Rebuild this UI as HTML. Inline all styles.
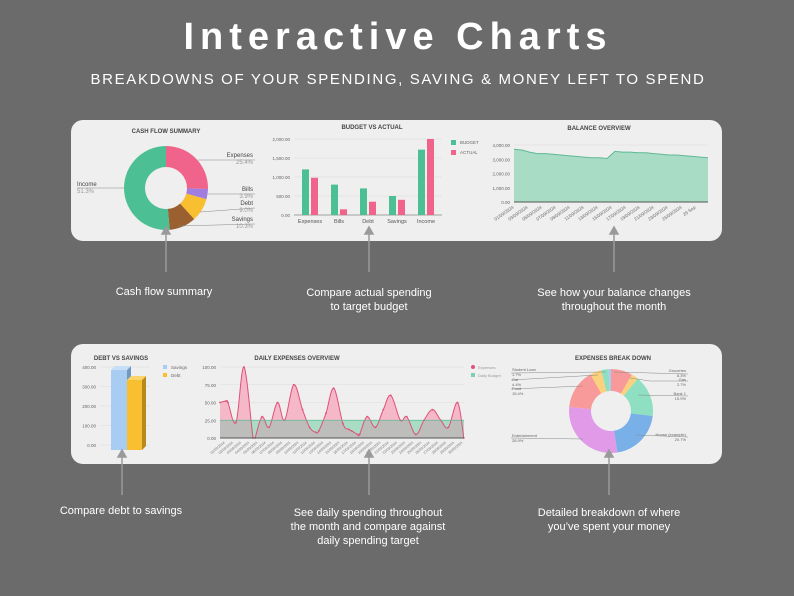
<!DOCTYPE html>
<html><head><meta charset="utf-8"><style>
body{margin:0;background:#6b6b6c;width:794px;height:596px;overflow:hidden;font-family:"Liberation Sans",sans-serif}
svg{display:block}
</style></head><body>
<svg id="s" width="794" height="596" viewBox="0 0 794 596" xmlns="http://www.w3.org/2000/svg" font-family="Liberation Sans, sans-serif">
<rect width="794" height="596" fill="#6b6b6c"/>
<text x="398" y="49" text-anchor="middle" fill="#fff" font-size="38" font-weight="bold" letter-spacing="6">Interactive Charts</text>
<text x="398" y="84" text-anchor="middle" fill="#fff" font-size="15" letter-spacing="1.65">BREAKDOWNS OF YOUR SPENDING, SAVING &amp; MONEY LEFT TO SPEND</text>
<rect x="71" y="120" width="651" height="121" rx="12" fill="#efefef"/>
<rect x="71" y="344" width="651" height="120" rx="12" fill="#efefef"/>
<g font-size="6" font-weight="bold" fill="#444" text-anchor="middle">
<text x="166" y="133">CASH FLOW SUMMARY</text>
<text x="372" y="129">BUDGET VS ACTUAL</text>
<text x="599" y="130">BALANCE OVERVIEW</text>
<text x="121" y="360">DEBT VS SAVINGS</text>
<text x="297" y="360">DAILY EXPENSES OVERVIEW</text>
<text x="613" y="360">EXPENSES BREAK DOWN</text>
</g>
<g id="dyn"></g>
<g fill="#fff" font-size="11" text-anchor="middle">
<text x="164" y="295">Cash flow summary</text>
<text x="369" y="296">Compare actual spending</text>
<text x="369" y="310">to  target budget</text>
<text x="614" y="296">See how your balance changes</text>
<text x="614" y="310">throughout the month</text>
<text x="121" y="514">Compare debt to savings</text>
<text x="368" y="516">See daily spending throughout</text>
<text x="368" y="530">the month and compare against</text>
<text x="368" y="544">daily spending target</text>
<text x="609" y="516">Detailed breakdown of where</text>
<text x="609" y="530">you’ve spent your money</text>
</g>
<g stroke="#9a9a9a" stroke-width="1.5" fill="#9a9a9a">
<line x1="166" y1="232" x2="166" y2="272"/><path d="M162,234 L166,227 L170,234Z"/>
<line x1="369" y1="232" x2="369" y2="272"/><path d="M365,234 L369,227 L373,234Z"/>
<line x1="614" y1="232" x2="614" y2="272"/><path d="M610,234 L614,227 L618,234Z"/>
<line x1="122" y1="455" x2="122" y2="495"/><path d="M118,457 L122,450 L126,457Z"/>
<line x1="369" y1="455" x2="369" y2="495"/><path d="M365,457 L369,450 L373,457Z"/>
<line x1="609" y1="455" x2="609" y2="495"/><path d="M605,457 L609,450 L613,457Z"/>
</g>
</svg>
<script>
var g=document.getElementById('dyn'),h='';
function arc(cx,cy,R,r,a0,a1,c){var p=Math.PI/180;function P(rr,a){return (cx+rr*Math.sin(a*p)).toFixed(2)+','+(cy-rr*Math.cos(a*p)).toFixed(2)}var l=(a1-a0)>180?1:0;return '<path d="M'+P(R,a0)+' A'+R+','+R+' 0 '+l+' 1 '+P(R,a1)+' L'+P(r,a1)+' A'+r+','+r+' 0 '+l+' 0 '+P(r,a0)+'Z" fill="'+c+'"/>';}
function donut(cx,cy,R,r,d){var a=0;d.forEach(function(x){var b=a+x[0]*3.6;h+=arc(cx,cy,R,r,a,b,x[1]);a=b;});}
function t(x,y,s,o){h+='<text x="'+x+'" y="'+y+'" font-size="'+(o&&o.fs||5)+'" fill="'+(o&&o.c||'#666')+'" text-anchor="'+(o&&o.a||'start')+'">'+s+'</text>';}
// cash flow
donut(166,188,42,21,[[25.4,'#f0648c'],[3.9,'#a07de0'],[9,'#f8c030'],[10.3,'#9a6030'],[51.4,'#4dbf94']]);
h+='<g stroke="#888" stroke-width="0.6" fill="none"><path d="M198,160 L255,160"/><path d="M208,194 L255,194"/><path d="M200,212 L255,208"/><path d="M178,226 L255,224"/><path d="M77,188 L124,188"/></g>';
t(253,157,'Expenses',{a:'end',fs:6,c:'#444'});t(253,164,'25.4%',{a:'end',fs:6,c:'#999'});
t(253,191,'Bills',{a:'end',fs:6,c:'#444'});t(253,198,'3.9%',{a:'end',fs:6,c:'#999'});
t(253,205,'Debt',{a:'end',fs:6,c:'#444'});t(253,212,'9.0%',{a:'end',fs:6,c:'#999'});
t(253,221,'Savings',{a:'end',fs:6,c:'#444'});t(253,228,'10.3%',{a:'end',fs:6,c:'#999'});
t(77,186,'Income',{fs:6,c:'#444'});t(77,193,'51.3%',{fs:6,c:'#999'});
// budget vs actual
var y0=215,sc=76/2000;
[0,500,1000,1500,2000].forEach(function(v){var y=y0-v*sc;h+='<line x1="294" y1="'+y+'" x2="442" y2="'+y+'" stroke="#ddd" stroke-width="0.6"/>';t(290,y+2,v.toFixed(2).replace('1000','1,000').replace('1500','1,500').replace('2000','2,000'),{a:'end',fs:4.5});});
h+='<line x1="294" y1="215" x2="442" y2="215" stroke="#888" stroke-width="0.8"/>';
[['Expenses',1200,980],['Bills',800,150],['Debt',700,350],['Savings',500,400],['Income',1720,2000]].forEach(function(d,i){var x=302+i*29;h+='<rect x="'+x+'" y="'+(y0-d[1]*sc)+'" width="7" height="'+d[1]*sc+'" fill="#4dbf94"/><rect x="'+(x+9)+'" y="'+(y0-d[2]*sc)+'" width="7" height="'+d[2]*sc+'" fill="#f0648c"/>';t(x+8,223,d[0],{a:'middle',fs:5.5,c:'#555'});});
h+='<rect x="451" y="140" width="5" height="5" fill="#4dbf94"/><rect x="451" y="150" width="5" height="5" fill="#f0648c"/>';t(460,144,'BUDGET',{fs:4.5});t(460,154,'ACTUAL',{fs:4.5});
// balance
var bx0=514,bx1=708,by0=202,bs=57/4000;
[0,1000,2000,3000,4000].forEach(function(v){var y=by0-v*bs;h+='<line x1="'+bx0+'" y1="'+y+'" x2="'+bx1+'" y2="'+y+'" stroke="#ddd" stroke-width="0.6"/>';t(510,y+2,(v?(v/1000)+',000.00':'0.00'),{a:'end',fs:4.5});});
var bv=[3700,3650,3500,3400,3400,3350,3300,3250,3200,3150,3100,3100,3050,3550,3500,3500,3450,3450,3400,3350,3300,3300,3250,3200,3150,3100],pts='';
bv.forEach(function(v,i){pts+=(bx0+i*(bx1-bx0)/(bv.length-1)).toFixed(1)+','+(by0-v*bs).toFixed(1)+' ';});
h+='<polygon points="'+bx0+','+by0+' '+pts+bx1+','+by0+'" fill="#a8dcc4"/><polyline points="'+pts+'" fill="none" stroke="#5fb896" stroke-width="1"/><line x1="'+bx0+'" y1="'+by0+'" x2="'+bx1+'" y2="'+by0+'" stroke="#555" stroke-width="1"/>';
for(var i=0;i<14;i++){var x=bx0+i*14;h+='<text x="'+x+'" y="'+(by0+6)+'" font-size="4.5" fill="#666" text-anchor="end" transform="rotate(-35 '+x+' '+(by0+6)+')">'+(i<13?(String(1+2*i).padStart(2,'0')+'/09/2024'):'29 Sep')+'</text>';}
// debt vs savings
var dy0=445,ds=78/400;
[0,100,200,300,400].forEach(function(v){var y=dy0-v*ds;h+='<line x1="100" y1="'+y+'" x2="150" y2="'+y+'" stroke="#ddd" stroke-width="0.6"/>';t(96,y+2,v.toFixed(2),{a:'end',fs:4.5});});
h+='<rect x="111" y="370" width="16" height="80" fill="#a9cdf2"/><path d="M127,370 L131,366 L131,446 L127,450Z" fill="#6f97c0"/><path d="M111,370 L115,366 L131,366 L127,370Z" fill="#c6def7"/>';
h+='<rect x="127" y="380" width="15" height="70" fill="#f8c030"/><path d="M142,380 L146,376 L146,446 L142,450Z" fill="#b88a1c"/><path d="M127,380 L131,376 L146,376 L142,380Z" fill="#fbd56c"/>';
h+='<rect x="163" y="365" width="4" height="4" fill="#a9cdf2"/><rect x="163" y="373" width="4" height="4" fill="#f8c030"/>';t(171,369,'Savings',{fs:4.5});t(171,377,'Debt',{fs:4.5});
// daily expenses
var ex0=220,ex1=464,ey0=438,es=71/100;
[0,25,50,75,100].forEach(function(v){var y=ey0-v*es;h+='<line x1="'+ex0+'" y1="'+y+'" x2="'+ex1+'" y2="'+y+'" stroke="#ddd" stroke-width="0.6"/>';t(216,y+2,v.toFixed(2),{a:'end',fs:4.5});});
var by=ey0-25*es;
h+='<rect x="'+ex0+'" y="'+by+'" width="'+(ex1-ex0)+'" height="'+25*es+'" fill="#a8dcc4"/>';
var ev=[50,52,50,22,100,0,0,30,15,50,25,75,40,15,8,10,35,70,20,12,10,5,5,30,15,40,60,25,30,5,25,40,25,15,50,0];
var exs=[220,226,228,236,244,253,255,262,269,277.5,284.6,293.8,302.5,309.6,315.8,318.8,326,333.8,343,349,351.7,357.5,359.6,367,375.4,383.3,390.8,400.4,406.7,415.8,424,432.5,440.8,448.3,457.5,463.8];
var P=ev.map(function(v,i){return [exs[i],ey0-v*es];});
var S=[P[0]];
for(var i=0;i<P.length-1;i++){var p0=P[i-1]||P[i],p1=P[i],p2=P[i+1],p3=P[i+2]||P[i+1];
var c1=[p1[0]+(p2[0]-p0[0])/6,Math.min(ey0,p1[1]+(p2[1]-p0[1])/6)],c2=[p2[0]-(p3[0]-p1[0])/6,Math.min(ey0,p2[1]-(p3[1]-p1[1])/6)];
for(var k=1;k<=12;k++){var s=k/12,u=1-s;
S.push([u*u*u*p1[0]+3*u*u*s*c1[0]+3*u*s*s*c2[0]+s*s*s*p2[0],Math.min(ey0,u*u*u*p1[1]+3*u*u*s*c1[1]+3*u*s*s*c2[1]+s*s*s*p2[1])]);}}
var lp=S.map(function(p){return p[0].toFixed(2)+','+p[1].toFixed(2)}).join(' ');
var gp=S.map(function(p){return p[0].toFixed(2)+','+Math.max(p[1],by).toFixed(2)}).join(' ');
h+='<polygon points="'+ex0+','+ey0+' '+lp+' '+ex1+','+ey0+'" fill="#f4b8c8"/>';
h+='<polygon points="'+ex0+','+ey0+' '+gp+' '+ex1+','+ey0+'" fill="#bdbdbb"/>';
h+='<polyline points="'+lp+'" fill="none" stroke="#e0507a" stroke-width="1"/>';
P.forEach(function(p){h+='<circle cx="'+p[0]+'" cy="'+p[1]+'" r="0.9" fill="#e0507a"/>';});
h+='<line x1="'+ex0+'" y1="'+by+'" x2="'+ex1+'" y2="'+by+'" stroke="#5fb896" stroke-width="0.8"/><line x1="'+ex0+'" y1="'+ey0+'" x2="'+ex1+'" y2="'+ey0+'" stroke="#555"/>';
for(var i=0;i<30;i++){var x=ex0+5+i*8.2;h+='<text x="'+x+'" y="'+(ey0+5)+'" font-size="3.5" fill="#777" text-anchor="end" transform="rotate(-40 '+x+' '+(ey0+5)+')">'+String(i+1).padStart(2,'0')+'/09/2024</text>';}
h+='<circle cx="473" cy="367" r="2" fill="#e0507a"/><rect x="471" y="373" width="4" height="4" fill="#7fd0b0"/>';t(478,369,'Expenses',{fs:4,c:'#999'});t(478,377,'Daily Budget',{fs:4,c:'#999'});
// expenses break down
donut(611,411,42,20,[[8.3,'#f99a9a'],[2.7,'#fbd17e'],[15.9,'#8fe0c2'],[20.7,'#7ab0e8'],[28.9,'#e09ae8'],[15.4,'#f99a9a'],[4.4,'#fbd17e'],[2.7,'#8fe0c2'],[1.0,'#a9cdf2']]);
h+='<g stroke="#888" stroke-width="0.5" fill="none"><path d="M614,372 L688,374"/><path d="M630,378 L650,381 L688,381"/><path d="M638,395 L688,396"/><path d="M636,435 L688,437"/><path d="M583,439 L511,438"/><path d="M583,386 L511,389"/><path d="M598,375 L511,380"/><path d="M606,372 L511,373"/></g>';
t(686,372,'Groceries',{a:'end',fs:4});t(686,377,'8.3%',{a:'end',fs:4});t(686,381,'Gas',{a:'end',fs:4});t(686,386,'2.7%',{a:'end',fs:4});
t(686,395,'Bank 1',{a:'end',fs:4});t(686,400,'15.9%',{a:'end',fs:4});t(686,436,'House (example)',{a:'end',fs:4});t(686,441,'20.7%',{a:'end',fs:4});
t(512,371,'Student Loan',{fs:4});t(512,376,'1.7%',{fs:4});t(512,381,'Car',{fs:4});t(512,386,'4.4%',{fs:4});t(512,390,'Food',{fs:4});t(512,395,'15.4%',{fs:4});
t(512,437,'Entertainment',{fs:4});t(512,442,'28.9%',{fs:4});
g.innerHTML=h;
</script>
</body></html>
